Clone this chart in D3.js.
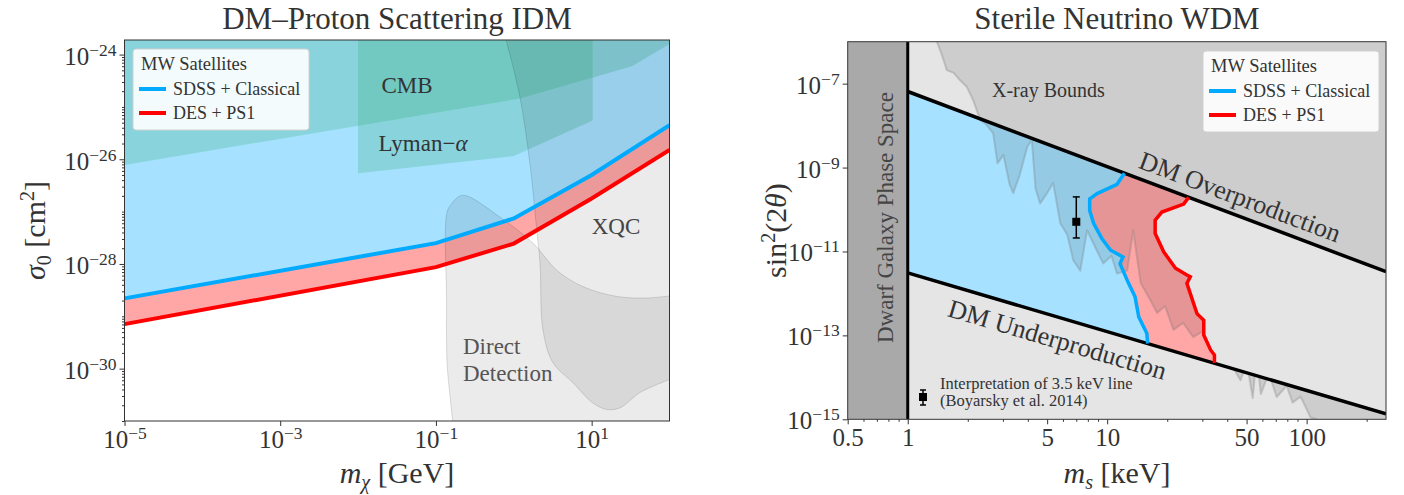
<!DOCTYPE html>
<html>
<head>
<meta charset="utf-8">
<script src="https://d3js.org/d3.v7.min.js"></script>
<style>
  body { margin: 0; background: #fff; }
  svg text { font-family: "Liberation Serif", "Times New Roman", serif; fill: #333; }
</style>
</head>
<body>
<script>
// ---------- left panel: DM-proton scattering (GeV, cm^2)
var idmMass = [1e-5, 0.1, 1, 10, 100];
var sdssSigma = [2.2e-29, 2.5e-28, 7.4e-28, 5.0e-27, 4.5e-26];
var desSigma = [7.1e-30, 8.7e-29, 2.45e-28, 1.78e-27, 1.5e-26];
var cmbMass = [1e-5, 1.2, 33, 100];
var cmbSigma = [7.8e-27, 1.45e-25, 6.0e-25, 1.6e-24];
var lyaMass = [0.01, 1, 10.3];
var lyaSigma = [5.4e-27, 1.15e-26, 5.5e-26];
var xqcMass = [0.79, 1.20, 1.61, 1.97, 2.17, 2.37, 3.19, 5.75, 10.4, 15.6, 23.1, 41.8, 100];
var xqcSigma = [2.0e-24, 1.55e-25, 8.3e-27, 4.5e-28, 1.05e-28, 5.5e-30, 1.29e-30, 5.4e-31, 2.2e-31, 1.66e-31, 1.78e-31, 3.5e-31, 6.2e-31];
var ddMass = [0.164, 0.152, 0.139, 0.137, 0.139, 0.161, 0.204, 0.25, 0.66, 1.77, 3.56, 7.7, 21, 51, 100];
var ddSigma = [1e-31, 2.9e-31, 1.29e-30, 2.0e-29, 9.8e-28, 1.45e-27, 2.0e-27, 2.0e-27, 7.9e-28, 2.5e-28, 7.6e-29, 3.7e-29, 2.4e-29, 2.24e-29, 2.45e-29];
var idmXTicks = [1e-5, 1e-3, 1e-1, 1e1];
var idmYTicks = [1e-30, 1e-28, 1e-26, 1e-24];

// ---------- right panel: sterile neutrino (keV, sin^2 2theta)
var bandMass = [1, 250];
var overMix = [6.5e-8, 3.3e-12];
var underMix = [3.1e-12, 1.35e-15];
var sdssMass = [12.2, 11.2, 8.9, 8.17, 8.17, 8.55, 9.42, 10.4, 12.0, 11.6, 12.8, 13.8, 14.4, 15.8, 15.96];
var sdssMix = [7.3e-10, 4.0e-10, 2.4e-10, 1.8e-10, 9.5e-11, 4.7e-11, 2.0e-11, 1.07e-11, 7.4e-12, 5.1e-12, 1.74e-12, 8.3e-13, 2.75e-13, 1.12e-13, 6.4e-14];
var desMass = [25.6, 24.2, 18.8, 17.4, 17.4, 19.2, 22.0, 25.1, 26.1, 25.1, 28.2, 30.5, 30.5, 33.0, 34.5, 34.5];
var desMix = [1.95e-10, 1.35e-10, 8.7e-11, 5.6e-11, 2.7e-11, 9.8e-12, 4.0e-12, 2.75e-12, 2.5e-12, 1.74e-12, 3.3e-13, 2.3e-13, 1.02e-13, 4.5e-14, 3.4e-14, 2.2e-14];
var xrayMass = [1.40, 1.48, 1.57, 1.70, 1.83, 1.98, 2.13, 2.31, 2.45, 2.68, 2.82, 3.02, 3.24, 3.38, 3.63, 3.98, 4.19, 4.37, 4.61, 5.01, 5.36, 5.82, 6.31, 6.76, 7.33, 7.93, 8.71, 9.55, 10.5, 11.2, 12.6, 13.5, 14.7, 16.2, 17.8, 19.5, 21.5, 24.0, 27.0, 30.2, 35.6, 38.9, 41.5, 46.6, 50.1, 53.7, 56.2, 58.9, 64.6, 70.8, 79.4, 85.1, 93.3, 104.7, 112.2];
var xrayMix = [1e-6, 5.0e-7, 2.1e-7, 1.8e-7, 1.2e-7, 8.3e-8, 4.0e-8, 1.35e-8, 1.12e-8, 6.6e-9, 1.26e-9, 2.0e-9, 4.0e-10, 2.45e-10, 6.3e-10, 3.2e-9, 4.5e-9, 3.2e-10, 1.4e-10, 2.5e-10, 4.3e-10, 4.7e-11, 2.5e-11, 6.2e-12, 3.5e-12, 3.2e-11, 1.26e-11, 5.2e-12, 7.9e-12, 3.0e-12, 3.5e-12, 3.2e-11, 1.8e-12, 7.9e-13, 3.4e-13, 5.0e-13, 1.35e-13, 2.0e-13, 9.1e-14, 1.26e-13, 6.6e-14, 5.0e-14, 2.2e-14, 8.5e-15, 2.2e-14, 3.2e-15, 3.8e-14, 4.0e-15, 1.26e-14, 3.4e-15, 6.3e-15, 2.5e-15, 3.5e-15, 1.1e-15, 1e-15];
var lineMass = [7.0];
var lineMix = [5.1e-11];
var lineLo = [2.1e-11];
var lineHi = [2.0e-10];
var wdmXTicks = [0.5, 1, 5, 10, 50, 100];
var wdmYTicks = [1e-15, 1e-13, 1e-11, 1e-9, 1e-7];

var blue = "#00aaff", red = "#ff0000";
var serif = '"Liberation Serif", "Times New Roman", serif';

var svg = d3.select("body").append("svg").attr("width", 1404).attr("height", 495);
var defs = svg.append("defs");

function pts(xs, ys) { return xs.map(function(d, i) { return [d, ys[i]]; }); }
function pathOf(points, sx, sy, curve, close) {
    var line = d3.line().x(function(p) { return sx(p[0]); }).y(function(p) { return sy(p[1]); });
    if (curve) line.curve(curve);
    return line(points) + (close ? "Z" : "");
}

function superTicks(g, anchor, x, y) {
    g.attr("font-family", null).attr("font-size", null);
    g.selectAll(".tick text").each(function(d) {
        var t = d3.select(this).text(null).attr("x", x).attr("y", y).attr("dy", null)
            .attr("text-anchor", anchor).style("font-family", serif).style("font-size", "25px");
        t.append("tspan").text("10");
        t.append("tspan").attr("dy", -9).style("font-size", "17.5px")
            .text(String(Math.round(Math.log10(d))).replace("-", "\u2212"));
    });
}
function minorAxis(axis, vals, size, transform) {
    var g = svg.append("g").attr("transform", transform).style("color", "#333")
        .call(axis.tickValues(vals).tickSize(size).tickSizeOuter(0).tickFormat(""));
    g.select(".domain").remove();
    g.selectAll(".tick text").remove();
}
function legend(x, y) {
    var g = svg.append("g").attr("transform", "translate(" + x + "," + y + ")");
    g.append("rect").attr("width", 176).attr("height", 81).attr("rx", 3)
        .attr("fill", "white").attr("fill-opacity", 0.9).attr("stroke", "#d0d0d0");
    g.append("text").attr("x", 8).attr("y", 21).style("font-size", "18.5px").text("MW Satellites");
    [["SDSS + Classical", blue, 40], ["DES + PS1", red, 64]].forEach(function(e) {
        g.append("line").attr("x1", 6).attr("x2", 33).attr("y1", e[2]).attr("y2", e[2])
            .attr("stroke", e[1]).attr("stroke-width", 4);
        g.append("text").attr("x", 40).attr("y", e[2] + 6).style("font-size", "18px").text(e[0]);
    });
}

// ================= LEFT PANEL =================
var L = {left: 124.5, right: 669.5, top: 40, bottom: 421};
var xL = d3.scaleLog().domain([1e-5, 1e2]).range([L.left, L.right]);
var yL = d3.scaleLog().domain([1e-31, 1.9e-24]).range([L.bottom, L.top]);
var topL = 1.9e-24, botL = 1e-31;

defs.append("clipPath").attr("id", "clipL").append("rect")
    .attr("x", L.left).attr("y", L.top).attr("width", L.right - L.left).attr("height", L.bottom - L.top);
var gL = svg.append("g").attr("clip-path", "url(#clipL)");

// excluded by SDSS (above blue line)
gL.append("path").attr("fill", "#a6e1ff")
    .attr("d", pathOf(pts(idmMass, sdssSigma).concat([[1e2, topL], [1e-5, topL]]), xL, yL, null, true));
// DES + PS1 band
gL.append("path").attr("fill", "#ffa6a6")
    .attr("d", d3.area().x(function(d) { return xL(d); })
        .y0(function(d, i) { return yL(desSigma[i]); })
        .y1(function(d, i) { return yL(sdssSigma[i]); })(idmMass));
// CMB
gL.append("path").attr("fill", "rgb(50,172,118)").attr("fill-opacity", 0.26)
    .attr("d", pathOf(pts(cmbMass, cmbSigma).concat([[1e2, topL], [1e-5, topL]]), xL, yL, null, true));
// Lyman-alpha
gL.append("path").attr("fill", "rgb(50,172,118)").attr("fill-opacity", 0.26)
    .attr("d", pathOf([[lyaMass[0], topL]].concat(pts(lyaMass, lyaSigma)).concat([[lyaMass[2], topL]]), xL, yL, null, true));
// XQC
var xqcEdge = pathOf(pts(xqcMass, xqcSigma), xL, yL, d3.curveCatmullRom, false);
gL.append("path").attr("fill", "black").attr("fill-opacity", 0.08)
    .attr("d", xqcEdge + "L" + xL(1e2) + "," + yL(topL) + "L" + xL(xqcMass[0]) + "," + yL(topL) + "Z");
gL.append("path").attr("fill", "none").attr("stroke", "black").attr("stroke-opacity", 0.13).attr("d", xqcEdge);
// Direct detection
var ddEdge = pathOf(pts(ddMass, ddSigma), xL, yL, d3.curveCatmullRom, false);
gL.append("path").attr("fill", "black").attr("fill-opacity", 0.08)
    .attr("d", ddEdge + "L" + xL(1e2) + "," + yL(botL) + "Z");
gL.append("path").attr("fill", "none").attr("stroke", "black").attr("stroke-opacity", 0.13).attr("d", ddEdge);
// limit lines
gL.append("path").attr("fill", "none").attr("stroke", blue).attr("stroke-width", 4)
    .attr("d", pathOf(pts(idmMass, sdssSigma), xL, yL));
gL.append("path").attr("fill", "none").attr("stroke", red).attr("stroke-width", 4)
    .attr("d", pathOf(pts(idmMass, desSigma), xL, yL));

// region labels
svg.append("text").attr("x", 407).attr("y", 93).attr("text-anchor", "middle").style("font-size", "23px").text("CMB");
var lya = svg.append("text").attr("x", 423).attr("y", 151).attr("text-anchor", "middle").style("font-size", "23px");
lya.append("tspan").text("Lyman\u2212");
lya.append("tspan").style("font-style", "italic").text("\u03b1");
svg.append("text").attr("x", 616).attr("y", 234).attr("text-anchor", "middle").style("font-size", "23px")
    .style("fill", "#444").text("XQC");
svg.append("text").attr("x", 463).attr("y", 354).style("font-size", "23px").style("fill", "#555").text("Direct");
svg.append("text").attr("x", 463).attr("y", 381).style("font-size", "23px").style("fill", "#555").text("Detection");

legend(133, 49);

// axes
var axL = svg.append("g").attr("transform", "translate(0," + L.bottom + ")").style("color", "#333")
    .call(d3.axisBottom(xL).tickValues(idmXTicks).tickSize(5).tickSizeOuter(0));
axL.select(".domain").remove();
superTicks(axL, "middle", 0, 27);
var ayL = svg.append("g").attr("transform", "translate(" + L.left + ",0)").style("color", "#333")
    .call(d3.axisLeft(yL).tickValues(idmYTicks).tickSize(5).tickSizeOuter(0));
ayL.select(".domain").remove();
superTicks(ayL, "end", -8, 10);
var minL = [];
for (var n = -31; n < -23; n++) for (var k = 1; k < 10; k++) {
    var v = k * Math.pow(10, n);
    if (v <= topL && !(k === 1 && n % 2 === 0)) minL.push(v);
}
minorAxis(d3.axisLeft(yL), minL, 2.5, "translate(" + L.left + ",0)");
svg.append("rect").attr("x", L.left).attr("y", L.top).attr("width", L.right - L.left).attr("height", L.bottom - L.top)
    .attr("fill", "none").attr("stroke", "#333").attr("stroke-width", 1);

svg.append("text").attr("x", 397).attr("y", 29).attr("text-anchor", "middle").style("font-size", "31px")
    .text("DM\u2013Proton Scattering IDM");
var xlabL = svg.append("text").attr("x", 397).attr("y", 483).attr("text-anchor", "middle").style("font-size", "30px");
xlabL.append("tspan").style("font-style", "italic").text("m");
xlabL.append("tspan").attr("dy", 6).style("font-size", "20px").style("font-style", "italic").text("\u03c7");
xlabL.append("tspan").attr("dy", -6).text("\u00a0[GeV]");
var ylabL = svg.append("text").attr("transform", "translate(45,230.5) rotate(-90)").attr("text-anchor", "middle")
    .style("font-size", "30px");
ylabL.append("tspan").style("font-style", "italic").text("\u03c3");
ylabL.append("tspan").attr("dy", 6).style("font-size", "20px").text("0");
ylabL.append("tspan").attr("dy", -6).text("\u00a0[cm");
ylabL.append("tspan").attr("dy", -11).style("font-size", "20px").text("2");
ylabL.append("tspan").attr("dy", 11).text("]");

// ================= RIGHT PANEL =================
var R = {left: 847.7, right: 1386, top: 41.7, bottom: 419.3};
var xR = d3.scaleLog().domain([0.5, 250]).range([R.left, R.right]);
var yR = d3.scaleLog().domain([1e-15, 1e-6]).range([R.bottom, R.top]);
var topR = 1e-6, botR = 1e-15;

defs.append("clipPath").attr("id", "clipR").append("rect")
    .attr("x", R.left).attr("y", R.top).attr("width", R.right - R.left).attr("height", R.bottom - R.top);
var gR = svg.append("g").attr("clip-path", "url(#clipR)");

var sdssPts = pts(sdssMass, sdssMix);
var desPts = pts(desMass, desMix);
var bluePoly = [[bandMass[0], overMix[0]]].concat(sdssPts).concat([[bandMass[0], underMix[0]]]);
var redPoly = desPts.concat(sdssPts.slice().reverse());
var abovePoly = [[bandMass[0], topR], [bandMass[0], overMix[0]], [bandMass[1], overMix[1]], [bandMass[1], topR]];
var belowPoly = [[bandMass[0], underMix[0]], [bandMass[1], underMix[1]], [bandMass[1], botR], [bandMass[0], botR]];

gR.append("rect").attr("x", xR(1)).attr("y", R.top).attr("width", R.right - xR(1)).attr("height", R.bottom - R.top)
    .attr("fill", "#e5e5e5");
gR.append("path").attr("fill", "#a6e1ff").attr("d", pathOf(bluePoly, xR, yR, null, true));
gR.append("path").attr("fill", "#ffa6a6").attr("d", pathOf(redPoly, xR, yR, null, true));

var xc = defs.append("clipPath").attr("id", "clipX");
[bluePoly, redPoly, abovePoly, belowPoly].forEach(function(p) {
    xc.append("path").attr("d", pathOf(p, xR, yR, null, true));
});
var gX = gR.append("g").attr("clip-path", "url(#clipX)");
var xrayEdge = pathOf(pts(xrayMass, xrayMix), xR, yR, null, false);
gX.append("path").attr("fill", "black").attr("fill-opacity", 0.1)
    .attr("d", xrayEdge + "L" + xR(250) + "," + yR(botR) + "L" + xR(250) + "," + yR(topR) + "Z");
gX.append("path").attr("fill", "none").attr("stroke", "#777").attr("stroke-opacity", 0.3).attr("stroke-width", 2)
    .attr("stroke-linejoin", "round").attr("d", xrayEdge);

gR.append("path").attr("fill", "none").attr("stroke", "black").attr("stroke-width", 3.5)
    .attr("d", pathOf(pts(bandMass, overMix), xR, yR));
gR.append("path").attr("fill", "none").attr("stroke", "black").attr("stroke-width", 3.5)
    .attr("d", pathOf(pts(bandMass, underMix), xR, yR));
gR.append("path").attr("fill", "none").attr("stroke", blue).attr("stroke-width", 3.5)
    .attr("d", pathOf(sdssPts, xR, yR));
gR.append("path").attr("fill", "none").attr("stroke", red).attr("stroke-width", 3.5)
    .attr("d", pathOf(desPts, xR, yR));

// dwarf galaxy phase space
gR.append("rect").attr("x", R.left).attr("y", R.top).attr("width", xR(1) - R.left).attr("height", R.bottom - R.top)
    .attr("fill", "#a9a9a9");
gR.append("line").attr("x1", xR(1)).attr("x2", xR(1)).attr("y1", R.top).attr("y2", R.bottom)
    .attr("stroke", "black").attr("stroke-width", 3);

// 3.5 keV line point
var pt = svg.append("g");
pt.selectAll("line.err").data(lineMass).enter().append("line")
    .attr("x1", function(d) { return xR(d); }).attr("x2", function(d) { return xR(d); })
    .attr("y1", function(d, i) { return yR(lineHi[i]); }).attr("y2", function(d, i) { return yR(lineLo[i]); })
    .attr("stroke", "black").attr("stroke-width", 1.5);
[lineHi, lineLo].forEach(function(arr) {
    pt.selectAll(null).data(lineMass).enter().append("line")
        .attr("x1", function(d) { return xR(d) - 3.5; }).attr("x2", function(d) { return xR(d) + 3.5; })
        .attr("y1", function(d, i) { return yR(arr[i]); }).attr("y2", function(d, i) { return yR(arr[i]); })
        .attr("stroke", "black").attr("stroke-width", 1.5);
});
pt.selectAll("rect").data(lineMass).enter().append("rect")
    .attr("x", function(d) { return xR(d) - 4; }).attr("y", function(d, i) { return yR(lineMix[i]) - 4; })
    .attr("width", 8).attr("height", 8).attr("fill", "black");

// point key
svg.append("line").attr("x1", 923).attr("x2", 923).attr("y1", 390).attr("y2", 405).attr("stroke", "black").attr("stroke-width", 1.5);
svg.append("line").attr("x1", 920).attr("x2", 926).attr("y1", 390).attr("y2", 390).attr("stroke", "black").attr("stroke-width", 1.5);
svg.append("line").attr("x1", 920).attr("x2", 926).attr("y1", 405).attr("y2", 405).attr("stroke", "black").attr("stroke-width", 1.5);
svg.append("rect").attr("x", 919).attr("y", 393).attr("width", 8).attr("height", 8).attr("fill", "black");
svg.append("text").attr("x", 940).attr("y", 389).style("font-size", "16.5px").text("Interpretation of 3.5 keV line");
svg.append("text").attr("x", 940).attr("y", 406).style("font-size", "16.5px").text("(Boyarsky et al. 2014)");

// region labels
svg.append("text").attr("x", 992).attr("y", 97).style("font-size", "20px").text("X-ray Bounds");
svg.append("text").attr("transform", "translate(893,217.5) rotate(-90)").attr("text-anchor", "middle")
    .style("font-size", "23px").style("fill", "#444").text("Dwarf Galaxy Phase Space");
var overAng = Math.atan2(yR(overMix[1]) - yR(overMix[0]), xR(250) - xR(1)) * 180 / Math.PI;
var underAng = Math.atan2(yR(underMix[1]) - yR(underMix[0]), xR(250) - xR(1)) * 180 / Math.PI;
svg.append("text").attr("transform", "translate(1237,205) rotate(" + overAng + ")").attr("text-anchor", "middle")
    .style("font-size", "26px").text("DM Overproduction");
svg.append("text").attr("transform", "translate(1055,348) rotate(" + underAng + ")").attr("text-anchor", "middle")
    .style("font-size", "26px").text("DM Underproduction");

legend(1203, 51);

// axes
var axR = svg.append("g").attr("transform", "translate(0," + R.bottom + ")").style("color", "#333")
    .call(d3.axisBottom(xR).tickValues(wdmXTicks).tickSize(5).tickSizeOuter(0).tickFormat(function(d) { return String(d); }));
axR.select(".domain").remove();
axR.attr("font-family", null).attr("font-size", null);
axR.selectAll(".tick text").attr("y", 27).attr("dy", null).style("font-family", serif).style("font-size", "25px");
var minR = [];
[0.1, 1, 10, 100].forEach(function(dec) {
    for (var k = 1; k < 10; k++) {
        var v = k * dec;
        if (v > 0.5 && v < 250 && wdmXTicks.indexOf(v) < 0) minR.push(v);
    }
});
minorAxis(d3.axisBottom(xR), minR, 2.5, "translate(0," + R.bottom + ")");
var ayR = svg.append("g").attr("transform", "translate(" + R.left + ",0)").style("color", "#333")
    .call(d3.axisLeft(yR).tickValues(wdmYTicks).tickSize(5).tickSizeOuter(0));
ayR.select(".domain").remove();
superTicks(ayR, "end", -8, 9.5);
svg.append("rect").attr("x", R.left).attr("y", R.top).attr("width", R.right - R.left).attr("height", R.bottom - R.top)
    .attr("fill", "none").attr("stroke", "#333").attr("stroke-width", 1);

svg.append("text").attr("x", 1117).attr("y", 29).attr("text-anchor", "middle").style("font-size", "31px")
    .text("Sterile Neutrino WDM");
var xlabR = svg.append("text").attr("x", 1117).attr("y", 483).attr("text-anchor", "middle").style("font-size", "30px");
xlabR.append("tspan").style("font-style", "italic").text("m");
xlabR.append("tspan").attr("dy", 6).style("font-size", "20px").style("font-style", "italic").text("s");
xlabR.append("tspan").attr("dy", -6).text("\u00a0[keV]");
var ylabR = svg.append("text").attr("transform", "translate(786,230.5) rotate(-90)").attr("text-anchor", "middle")
    .style("font-size", "30px");
ylabR.append("tspan").text("sin");
ylabR.append("tspan").attr("dy", -11).style("font-size", "20px").text("2");
ylabR.append("tspan").attr("dy", 11).text("(2");
ylabR.append("tspan").style("font-style", "italic").text("\u03b8");
ylabR.append("tspan").text(")");
</script>
</body>
</html>
